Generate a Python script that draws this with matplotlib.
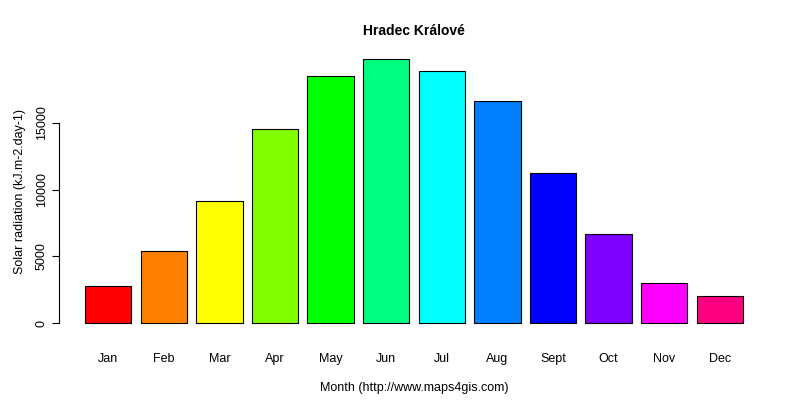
import matplotlib
matplotlib.use("Agg")
import matplotlib.pyplot as plt
plt.rcParams['font.family'] = ['Liberation Sans', 'DejaVu Sans']

months = ["Jan","Feb","Mar","Apr","May","Jun","Jul","Aug","Sept","Oct","Nov","Dec"]
values = [2780, 5400, 9150, 14550, 18520, 19800, 18900, 16650, 11250, 6680, 3000, 2030]
colors = ["#FF0000","#FF8000","#FFFF00","#80FF00","#00FF00","#00FF80",
          "#00FFFF","#0080FF","#0000FF","#8000FF","#FF00FF","#FF0080"]
yticks = [0, 5000, 10000, 15000]

fig = plt.figure(figsize=(8, 4), dpi=100)
ax = fig.add_axes([58.7/800, (400-333.6)/400, 710.6/800, 285.1/400])
x = [0.7 + 1.2*i for i in range(12)]
ax.bar(x, values, width=1.0, color=colors, edgecolor="black", linewidth=0.8)
ax.set_xlim(-0.368, 14.968)
ax.set_ylim(-792, 20592)
for s in ["top", "right", "bottom"]:
    ax.spines[s].set_visible(False)
ax.spines["left"].set_bounds(0, 15000)
ax.set_yticks(yticks)
ax.set_yticklabels([str(v) for v in yticks], rotation=90, va="center", fontsize=9)
ax.set_xticks(x)
ax.set_xticklabels(months, fontsize=9)
ax.tick_params(axis="x", length=0, pad=14)
ax.tick_params(axis="y", length=5, pad=3)
ax.set_xlabel("Month (http://www.maps4gis.com)", fontsize=9, labelpad=12)
ax.set_ylabel("Solar radiation (kJ.m-2.day-1)", fontsize=9, labelpad=7)
ax.set_title("Hradec Králové", fontsize=10, fontweight="bold", pad=10)
fig.savefig("out.png", dpi=100)
